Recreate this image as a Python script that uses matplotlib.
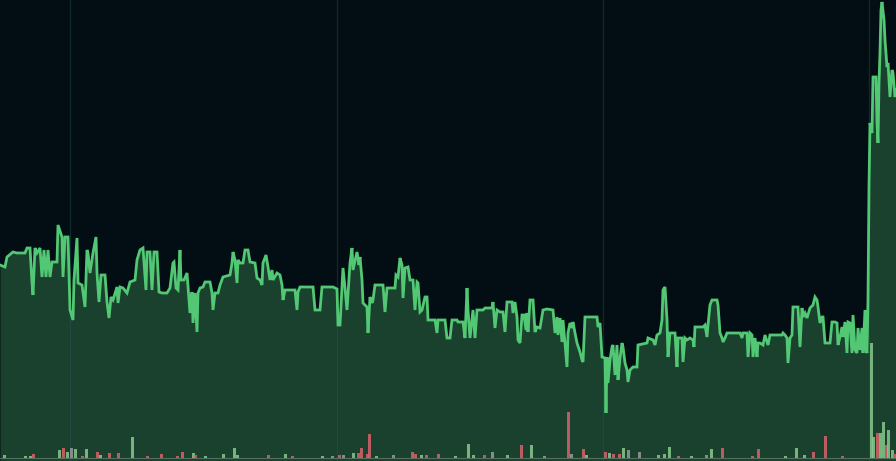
import matplotlib
matplotlib.use("Agg")
import matplotlib.pyplot as plt
import numpy as np

# price line: time index and price readings
t = [0, 5, 7, 13, 17, 25, 27, 30, 32, 33, 35, 37, 40, 42, 44, 46, 48, 50, 52, 57, 58, 62, 63, 65, 68,
     70, 73, 74, 77, 78, 82, 85, 87, 88, 90, 93, 96, 97, 99, 101, 105, 107, 109, 111, 113, 117, 118,
     120, 123, 127, 130, 135, 137, 140, 143, 146, 147, 150, 152, 154, 157, 159, 162, 167, 170, 173,
     174, 176, 178,
     180, 181, 184, 187, 190, 192, 193, 195, 197, 198, 200, 203, 205, 210, 212, 213, 215, 218, 220,
     223, 230, 232, 233, 235, 237, 238, 240, 243, 245, 248, 250, 255, 257, 260, 262, 263, 266, 268,
     270, 272, 273, 277, 280, 282, 283, 285, 292, 295, 297, 298, 300, 313, 315, 320, 322, 333, 337,
     338, 340, 342, 343, 345, 347, 350, 352, 353, 357, 359,
     360, 362, 363, 367, 368, 370, 372, 373, 375, 383, 385, 387, 395, 396, 398, 400, 402, 403, 405,
     408, 410, 413, 415, 417, 418, 420, 422, 425, 427, 428, 435, 437, 438, 445, 447, 450, 452, 457,
     458, 463, 465, 467, 468, 470, 473, 475, 477, 483, 485, 492, 493, 495, 497, 500, 503, 505, 507,
     512, 513, 515, 517, 518, 520, 522, 524, 526, 527, 528, 530, 533, 535, 537,
     540, 543, 547, 553, 555, 557, 558, 560, 562, 563, 565, 567, 568, 570, 572, 573, 575, 577, 580,
     582, 583, 585, 597, 598, 600, 602, 605, 606, 607, 608, 610, 612, 613, 615, 617, 618, 620, 622,
     623, 625, 627, 628, 630, 633, 637, 638, 647, 648, 653, 655, 657, 660, 662, 663, 665, 667, 668,
     670, 675, 677, 678, 682, 683, 685, 687, 690, 693, 694, 695, 703, 705, 707, 708, 710, 712, 717, 718,
     720, 722, 723, 725, 727, 740, 742, 743, 747, 748, 750, 752, 753, 755, 757, 758, 760, 763, 765,
     768, 770, 782, 783, 785, 787, 788, 790, 792, 793, 798, 800, 802, 803, 805, 807, 810, 813, 815,
     817, 818, 820, 822, 823, 825, 830, 832, 835, 837, 838, 840, 842, 843, 845, 847, 848, 850, 852,
     853, 855, 857, 858, 860, 862, 863, 865, 866,
     867, 868, 869, 870, 872, 873, 876, 877, 878, 879, 880, 881, 882, 884, 885, 887, 888, 890, 892,
     893, 895, 896]

price = [196, 194, 204, 209, 208, 208, 213, 213, 178, 166, 213, 208, 213, 184, 211, 184, 211, 184, 199,
         199, 236, 224, 184, 224, 224, 151, 141, 181, 223, 178, 176, 154, 211, 208, 188, 208, 224, 188,
         159, 186, 186, 159, 143, 164, 161, 174, 158, 174, 173, 168, 179, 181, 201, 211, 213, 171, 209,
         209, 171, 209, 209, 169, 168, 168, 173, 198, 199, 173, 171,
         211, 181, 181, 188, 148, 169, 138, 168, 129, 168, 173, 174, 179, 179, 168, 151, 168, 168, 176,
         184, 186, 198, 209, 201, 178, 201, 198, 198, 211, 211, 199, 198, 183, 181, 176, 198, 206, 194,
         181, 191, 181, 188, 186, 176, 161, 171, 171, 171, 151, 169, 174, 174, 151, 151, 174, 174, 172,
         136, 136, 173, 193, 173, 151, 198, 213, 191, 209, 196,
         204, 181, 158, 154, 128, 164, 158, 161, 176, 176, 149, 173, 173, 186, 184, 203, 196, 163, 193,
         194, 181, 181, 151, 179, 178, 149, 151, 164, 164, 141, 141, 128, 141, 141, 123, 123, 141, 141,
         139, 139, 123, 173, 151, 123, 151, 123, 151, 151, 153, 153, 159, 133, 151, 149, 149, 129, 159,
         159, 148, 159, 144, 121, 118, 146, 146, 131, 148, 129, 161, 161, 129, 134,
         133, 151, 152, 151, 128, 144, 126, 143, 119, 141, 118, 94, 128, 138, 133, 139, 128, 118, 109,
         101, 99, 144, 144, 134, 138, 104, 103, 48, 104, 78, 101, 114, 116, 86, 116, 81, 103, 118,
         114, 98, 91, 79, 91, 94, 94, 116, 118, 123, 121, 116, 126, 128, 141, 171, 174, 141, 104,
         128, 128, 94, 123, 123, 99, 123, 121, 123, 121, 114, 134, 134, 136, 124, 136, 156, 161, 161, 156,
         128, 123, 119, 123, 128, 128, 123, 128, 128, 104, 128, 126, 104, 123, 104, 118, 118, 116, 126,
         116, 126, 126, 128, 126, 123, 98, 123, 126, 154, 154, 114, 153, 144, 148, 143, 153, 156, 164,
         161, 154, 138, 144, 144, 118, 118, 139, 139, 138, 116, 124, 134, 124, 139, 108, 139, 138, 108,
         146, 111, 108, 133, 111, 133, 108, 151, 111,
         108, 161, 274, 338, 328, 384, 384, 338, 318, 378, 408, 451, 459, 441, 421, 394, 398, 364, 391,
         388, 364, 371]

# volume bars: time, size, direction
vol_t = [4, 25, 30, 33, 59, 63, 67, 71, 75, 82, 86, 97, 100, 109, 118, 132, 147, 161, 177, 182,
         193, 195, 205, 223, 234, 237, 268, 285, 292,
         322, 332, 339, 343, 353, 358, 361, 367, 369, 376, 393, 412, 415, 421, 426, 438, 455, 468,
         473, 484, 492, 507, 521, 531, 544, 568, 571, 583, 586,
         605, 609, 613, 619, 623, 628, 639, 658, 664, 669, 678, 691, 706, 711, 722, 752, 758, 785,
         796, 804, 813, 825, 842, 871, 873, 877, 880, 883, 886, 888, 892, 894]
vol_h = [3, 2, 2, 4, 8, 10, 6, 10, 9, 2, 9, 6, 3, 5, 5, 21, 2, 4, 2, 6,
         5, 3, 2, 4, 10, 3, 3, 4, 2,
         2, 2, 3, 3, 5, 5, 10, 4, 24, 2, 3, 6, 4, 3, 3, 4, 2, 14,
         3, 3, 6, 3, 13, 13, 2, 46, 4, 9, 3,
         6, 5, 4, 4, 10, 8, 6, 3, 4, 11, 2, 2, 3, 9, 10, 2, 9, 2,
         10, 3, 6, 22, 2, 115, 21, 25, 25, 36, 13, 28, 8, 4]
vol_dir = ['u', 'u', 'u', 'd', 'u', 'd', 'u', 'f', 'u', 'd', 'u', 'd', 'u', 'd', 'd', 'u', 'd', 'd', 'd', 'd',
           'u', 'd', 'u', 'u', 'u', 'u', 'd', 'u', 'd',
           'u', 'f', 'd', 'f', 'u', 'd', 'd', 'd', 'd', 'u', 'f', 'd', 'd', 'u', 'd', 'd', 'u', 'u',
           'u', 'd', 'f', 'u', 'd', 'u', 'f', 'd', 'f', 'd', 'u',
           'd', 'u', 'd', 'd', 'u', 'f', 'f', 'u', 'u', 'u', 'd', 'u', 'f', 'u', 'd', 'd', 'd', 'u',
           'u', 'u', 'd', 'd', 'd', 'u', 'u', 'd', 'u', 'u', 'd', 'u', 'u', 'd']

time_grid = [70, 337, 603, 869]

bg = '#030e14'
line_c = '#52c874'
fill_c = '#1a402e'
dir_colors = {'u': '#86c98c', 'd': '#d7626a', 'f': '#9a9a9a'}

fig = plt.figure(figsize=(8.96, 4.61), dpi=100, facecolor=bg)
ax = fig.add_axes([0, 0, 1, 1])
ax.set_facecolor(bg)

ax.fill_between(t, price, 0, color=fill_c, linewidth=0, zorder=1)
for g in time_grid:
    ax.axvline(g, color='#2b5a66', alpha=0.35, linewidth=0.9, zorder=2)
ax.plot(t, price, color=line_c, linewidth=2.0, solid_joinstyle='miter', zorder=5)
ax.set_xlim(0, 896)
ax.set_ylim(0, 461)
ax.axis('off')

# volume on its own scale, drawn over the price area
vax = ax.twinx()
vax.bar(vol_t, vol_h, width=3.0, color=[dir_colors[d] for d in vol_dir], alpha=0.85,
        linewidth=0, zorder=3)
vax.axhline(0, color='#55705f', linewidth=0.8)
vax.set_ylim(-3, 458)
vax.set_xlim(0, 896)
vax.axis('off')

fig.savefig('out.png', dpi=100, facecolor=bg)
